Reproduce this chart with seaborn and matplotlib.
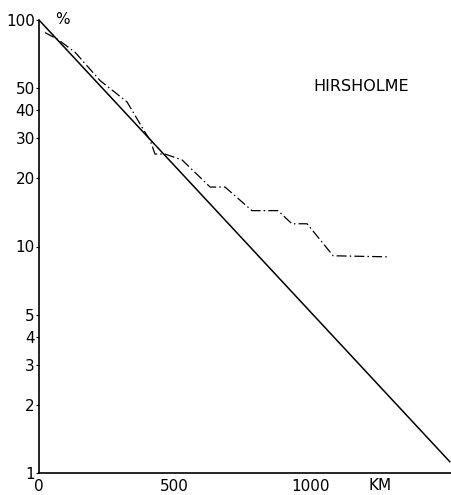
import matplotlib
matplotlib.use("Agg")
import matplotlib.pyplot as plt
import seaborn as sns
import pandas as pd

# Data
theory_km = [0, 1513]
theory_pct = [100, 1.12]

obs_km = [22, 70, 133, 225, 324, 390, 409, 427, 464, 527, 630, 685, 784, 880, 931, 987, 1083, 1289]
obs_pct = [88, 82, 72, 54, 43.5, 32, 29.5, 25.6, 25.6, 24.1, 18.3, 18.3, 14.4, 14.4, 12.6, 12.6, 9.1, 9.0]

y_ticks = [1, 2, 3, 4, 5, 10, 20, 30, 40, 50, 100]
x_ticks = [0, 500, 1000]

sns.set_theme(style="white")
plt.rcParams['font.family'] = ['DejaVu Sans']

fig = plt.figure(figsize=(4.52, 4.95), dpi=100)
ax = fig.add_axes([39/452, 22/495, 1 - 39/452, (473-20)/495])

df_t = pd.DataFrame({"km": theory_km, "pct": theory_pct})
df_o = pd.DataFrame({"km": obs_km, "pct": obs_pct})

sns.lineplot(data=df_t, x="km", y="pct", ax=ax, color="black", lw=1.1, sort=False)
sns.lineplot(data=df_o, x="km", y="pct", ax=ax, color="black", lw=0.9, sort=False,
             linestyle=(0, (8, 2.5, 1.2, 2.5)))

ax.set_yscale("log")
ax.set_ylim(1, 100)
ax.set_xlim(0, (452-39)/0.2716)
ax.set_xlabel("")
ax.set_ylabel("")

ax.set_yticks(y_ticks)
ax.set_yticklabels([str(v) for v in y_ticks])
ax.yaxis.set_minor_locator(matplotlib.ticker.NullLocator())
ax.set_xticks(x_ticks)
ax.set_xticklabels([str(v) for v in x_ticks])

for s in ["top", "right"]:
    ax.spines[s].set_visible(False)
for s in ["left", "bottom"]:
    ax.spines[s].set_color("black")
    ax.spines[s].set_linewidth(1.2)

ax.tick_params(axis="y", which="major", left=True, length=2, width=0.8, pad=1, labelsize=11, colors="black")
ax.tick_params(axis="x", which="major", bottom=False, length=0, pad=4, labelsize=11, colors="black")

ax.text(1255, 0.0, "KM", transform=ax.get_xaxis_transform(), ha="center", va="top", fontsize=11,
        color="black").set_y(-0.012)
ax.text(88, 100, "%", ha="center", va="center", fontsize=11, color="black")
ax.text(1185, 51, "HIRSHOLME", ha="center", va="center", fontsize=11.5, color="black")

fig.savefig("out.png", dpi=100)
